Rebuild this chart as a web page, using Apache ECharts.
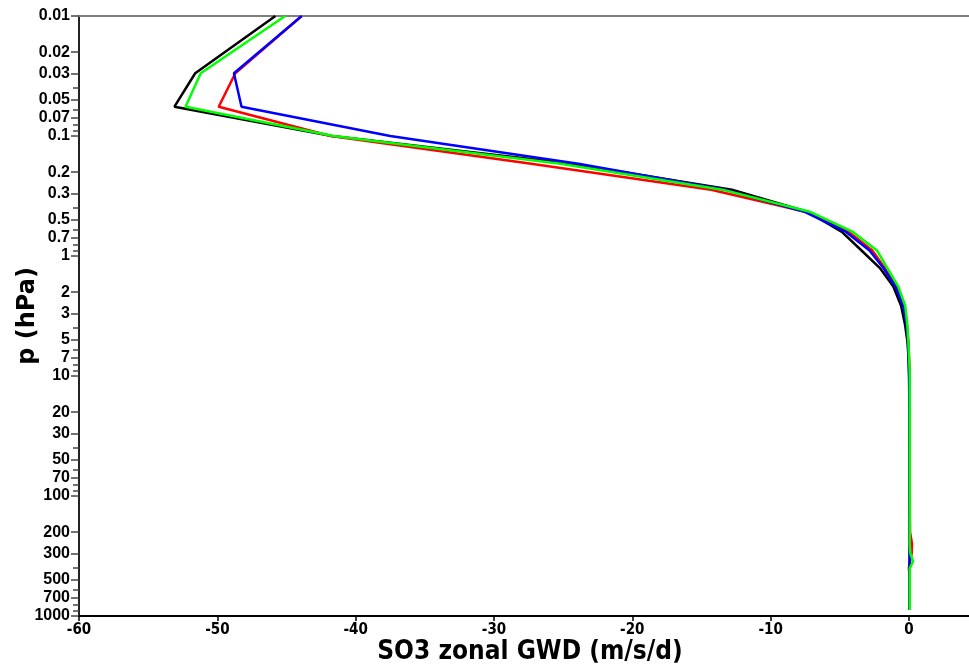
<!DOCTYPE html>
<html>
<head>
<meta charset="utf-8">
<script src="https://cdn.jsdelivr.net/npm/echarts@6/dist/echarts.min.js"></script>
<style>html,body{margin:0;padding:0;background:#fff;}#c{width:969px;height:668px;}</style>
</head>
<body>
<div id="c"></div>
<script>
// pressure levels (hPa)
var pLevels = [0.01, 0.03, 0.057, 0.1, 0.17, 0.28, 0.43, 0.63, 0.9, 1.26, 1.8, 2.6, 3.7, 5.2, 7.3, 10, 20, 50, 100, 200, 250, 300, 350, 400, 500, 700, 890];
// zonal GWD (m/s/d)
var blackVals = [-45.8, -51.6, -53.1, -41.7, -24.4, -12.8, -7.3, -4.85, -3.43, -2.1, -1.13, -0.57, -0.29, -0.11, -0.02, 0.02, 0.04, 0.05, 0.05, 0.05, 0.05, 0.05, 0.05, 0.0, 0.05, 0.05, 0.05];
var redVals   = [-43.9, -48.7, -49.9, -41.8, -27.3, -14.3, -7.4, -4.35, -2.65, -1.75, -0.9, -0.35, -0.15, -0.05, 0.01, 0.05, 0.06, 0.06, 0.06, 0.08, 0.22, 0.2, 0.08, 0.02, 0.05, 0.05, 0.05];
var blueVals  = [-43.9, -48.8, -48.25, -37.5, -23.9, -13.3, -7.5, -4.55, -2.85, -1.85, -0.98, -0.42, -0.18, -0.06, -0.03, 0.0, 0.04, 0.05, 0.05, 0.05, 0.05, 0.05, 0.05, 0.05, 0.05, 0.05, 0.05];
var greenVals = [-45.1, -51.2, -52.3, -41.6, -25.2, -13.5, -7.1, -4.05, -2.31, -1.56, -0.77, -0.27, -0.12, -0.04, 0.02, 0.06, 0.06, 0.06, 0.06, 0.06, 0.05, 0.1, 0.3, 0.06, 0.06, 0.06, 0.06];
// ticks
var xTicks = [-60, -50, -40, -30, -20, -10, 0];
var yTickLabels = [0.01, 0.02, 0.03, 0.05, 0.07, 0.1, 0.2, 0.3, 0.5, 0.7, 1, 2, 3, 5, 7, 10, 20, 30, 50, 70, 100, 200, 300, 500, 700, 1000];
var yMinorTicks = [0.04, 0.06, 0.08, 0.09, 0.4, 0.6, 0.8, 0.9, 4, 6, 8, 9, 40, 60, 80, 90, 400, 600, 800, 900];

function pairs(vals) {
  return vals.map(function (v, i) { return [v, pLevels[i]]; });
}
function mkSeries(name, vals, color) {
  return {
    name: name, type: 'line', data: pairs(vals), showSymbol: false, symbol: 'none',
    lineStyle: { color: color, width: 2.5 }, itemStyle: { color: color },
    xAxisIndex: 0, yAxisIndex: 0, animation: false, clip: true
  };
}
var chart = echarts.init(document.getElementById('c'), null, { renderer: 'canvas' });
chart.setOption({
  animation: false,
  backgroundColor: '#fff',
  grid: { left: 79, right: 0, top: 16, bottom: 52, containLabel: false, outerBoundsMode: 'none' },
  xAxis: [{
    type: 'value', min: -60, max: 4.34, interval: 10, position: 'bottom',
    splitLine: { show: false },
    axisLine: { show: true, onZero: false, lineStyle: { color: '#000', width: 2 } },
    axisTick: { show: true, inside: false, length: 5, customValues: xTicks, lineStyle: { color: '#000', width: 1.5 } },
    axisLabel: { customValues: xTicks, margin: 7, fontFamily: '"DejaVu Sans Condensed", "Liberation Sans", sans-serif', fontSize: 15, fontWeight: 'bold', color: '#000' },
    name: 'SO3 zonal GWD (m/s/d)', nameLocation: 'middle', nameGap: 23, nameMoveOverlap: false,
    nameTextStyle: { fontFamily: '"DejaVu Sans Condensed", "Liberation Sans", sans-serif', fontWeight: 'bold', fontSize: 26, color: '#000', padding: [0, 0, 0, 12] }
  }, {
    type: 'value', min: -60, max: 4.34, position: 'top',
    splitLine: { show: false }, axisTick: { show: false }, axisLabel: { show: false },
    axisLine: { show: true, onZero: false, lineStyle: { color: '#808080', width: 2 } }
  }],
  yAxis: [{
    type: 'log', logBase: 10, inverse: true, min: 0.01, max: 1000, position: 'left',
    splitLine: { show: false }, minorTick: { show: false },
    axisLine: { show: true, onZero: false, lineStyle: { color: '#222', width: 2 } },
    axisTick: { show: true, length: 8, customValues: yTickLabels, lineStyle: { color: '#444', width: 1.5 } },
    axisLabel: { customValues: yTickLabels, margin: 9, fontFamily: '"Liberation Sans", Arial, sans-serif', fontWeight: 'bold', fontSize: 16, color: '#000',
      formatter: function (v) { return String(Number((+v).toPrecision(3))); } },
    name: 'p (hPa)', nameLocation: 'middle', nameGap: 39, nameRotate: 90, nameMoveOverlap: false,
    nameTextStyle: { fontFamily: '"DejaVu Sans", sans-serif', fontWeight: 'bold', fontSize: 24, color: '#000' }
  }, {
    type: 'log', logBase: 10, inverse: true, min: 0.01, max: 1000, position: 'left',
    splitLine: { show: false },
    axisLine: { show: false, onZero: false },
    axisTick: { show: true, length: 6, customValues: yMinorTicks, lineStyle: { color: '#444', width: 1.5 } },
    axisLabel: { show: false }
  }],
  series: [
    mkSeries('black', blackVals, '#000000'),
    mkSeries('red', redVals, '#ff0000'),
    mkSeries('blue', blueVals, '#0000ff'),
    mkSeries('green', greenVals, '#00ff00')
  ]
});
</script>
</body>
</html>
